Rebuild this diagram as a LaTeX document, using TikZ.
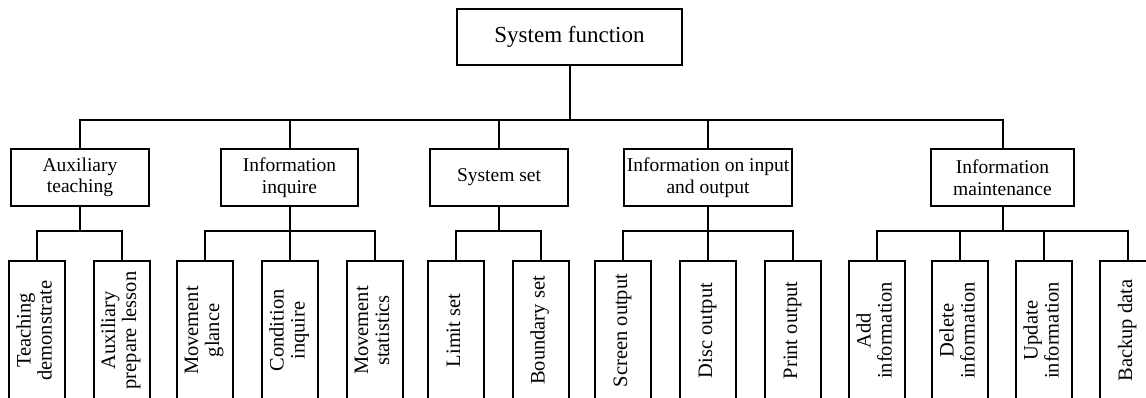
\documentclass[tikz,border=0pt]{standalone}
\usepackage{fontspec}
\setmainfont{Liberation Serif}
\newcommand{\vlabel}[1]{\rotatebox{90}{\begin{tabular}{@{}c@{}}#1\end{tabular}}}
\begin{document}
\begin{tikzpicture}[x=1pt, y=1pt, line width=2pt,
    every node/.style={font=\fontsize{19.5}{21.5}\selectfont},
    topbox/.style={draw, minimum width=225, minimum height=56, font=\fontsize{23}{26}\selectfont},
    groupbox/.style={draw, align=center, minimum height=57, inner sep=2pt},
    leafbox/.style={draw, minimum width=56, minimum height=139, inner sep=0pt, font=\fontsize{20.5}{21}\selectfont},
    treelink/.style={to path={(\tikztostart.south) |- ([yshift=#1]\tikztotarget.north) -- (\tikztotarget.north)}}]

    \useasboundingbox (0,0) rectangle (1146,398);

    \node[topbox] (sysfn) at (569.5,361) {System function};

    \node[groupbox, minimum width=138] (aux) at (80,220.5) {Auxiliary\\teaching};
    \node[groupbox, minimum width=137] (inq) at (289.5,220.5) {Information\\inquire};
    \node[groupbox, minimum width=138] (sset) at (499,220.5) {System set};
    \node[groupbox, minimum width=168] (io) at (708,220.5) {Information on input\\and output};
    \node[groupbox, minimum width=143] (mnt) at (1002.5,220.5) {Information\\maintenance};

    \node[leafbox] (teach) at (37,67.5) {\vlabel{Teaching\\demonstrate}};
    \node[leafbox] (prep) at (121.5,67.5) {\vlabel{Auxiliary\\prepare lesson}};
    \node[leafbox] (glance) at (204.5,67.5) {\vlabel{Movement\\glance}};
    \node[leafbox] (cond) at (290,67.5) {\vlabel{Condition\\inquire}};
    \node[leafbox] (stats) at (374.5,67.5) {\vlabel{Movement\\statistics}};
    \node[leafbox] (limit) at (456,67.5) {\vlabel{Limit set}};
    \node[leafbox] (bound) at (540.5,67.5) {\vlabel{Boundary set}};
    \node[leafbox] (screen) at (623,67.5) {\vlabel{Screen output}};
    \node[leafbox] (disc) at (708,67.5) {\vlabel{Disc output}};
    \node[leafbox] (print) at (793,67.5) {\vlabel{Print output}};
    \node[leafbox] (add) at (877,67.5) {\vlabel{Add\\information}};
    \node[leafbox] (del) at (960,67.5) {\vlabel{Delete\\information}};
    \node[leafbox] (upd) at (1044,67.5) {\vlabel{Update\\information}};
    \node[leafbox] (backup) at (1128,67.5) {\vlabel{Backup data}};

    \draw
    (sysfn) edge[treelink=28] (aux)
            edge[treelink=28] (inq)
            edge[treelink=28] (sset)
            edge[treelink=28] (io)
            edge[treelink=28] (mnt)
    (aux) edge[treelink=29] (teach)
          edge[treelink=29] (prep)
    (inq) edge[treelink=29] (glance)
          edge[treelink=29] (cond)
          edge[treelink=29] (stats)
    (sset) edge[treelink=29] (limit)
           edge[treelink=29] (bound)
    (io) edge[treelink=29] (screen)
         edge[treelink=29] (disc)
         edge[treelink=29] (print)
    (mnt) edge[treelink=29] (add)
          edge[treelink=29] (del)
          edge[treelink=29] (upd)
          edge[treelink=29] (backup)
        ;
\end{tikzpicture}
\end{document}
